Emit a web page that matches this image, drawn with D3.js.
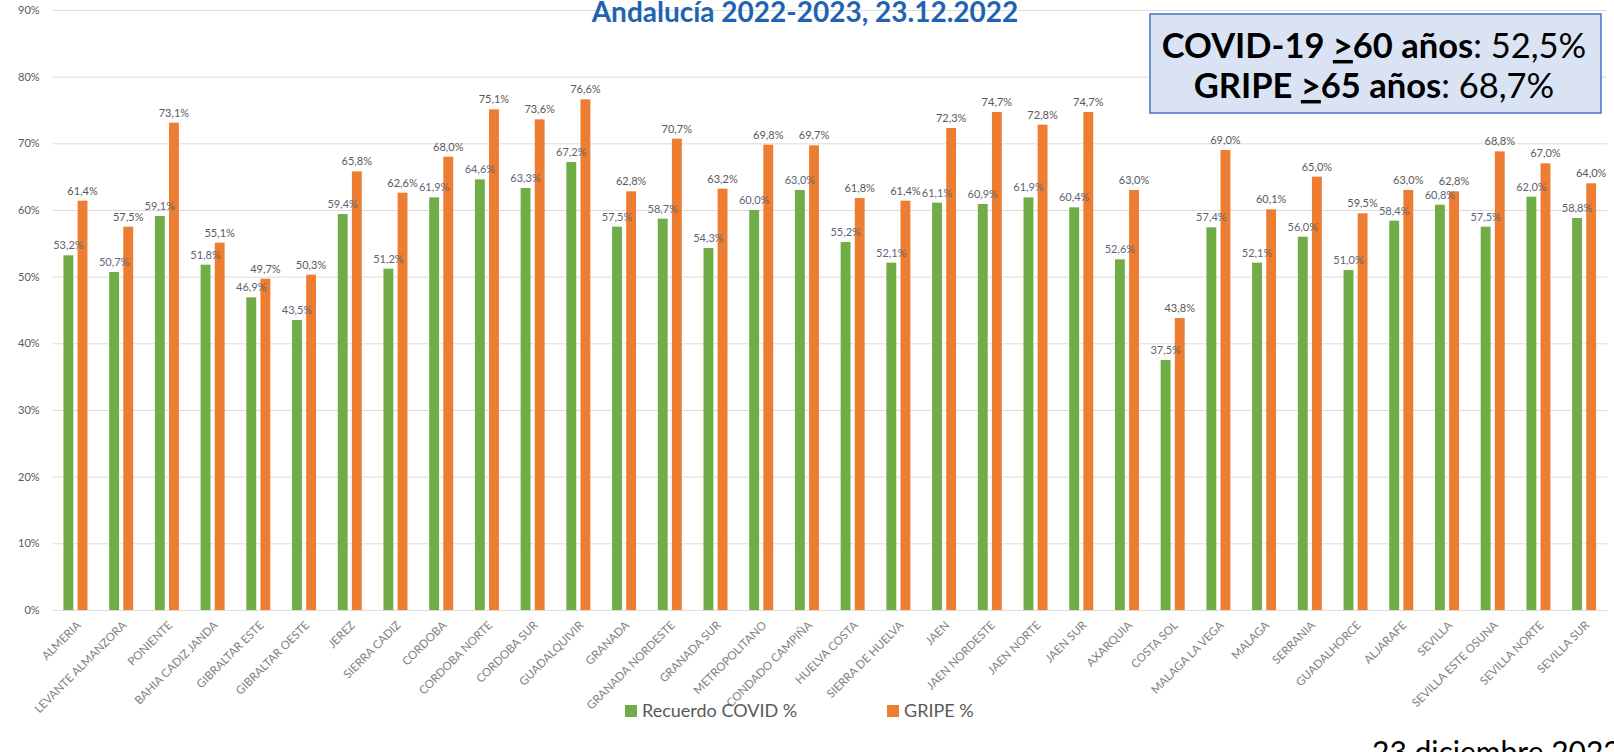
<!DOCTYPE html>
<html>
<head>
<meta charset="utf-8">
<script src="https://cdn.jsdelivr.net/npm/d3@7"></script>
<style>
  html, body { margin: 0; padding: 0; background: #fff; overflow: hidden; }
  svg { display: block; font-family: Lato, "Open Sans", sans-serif; }
</style>
</head>
<body>
<svg id="chart" width="1614" height="752"></svg>
<script>
const categories = [
  "ALMERIA", "LEVANTE ALMANZORA", "PONIENTE", "BAHIA CADIZ JANDA", "GIBRALTAR ESTE",
  "GIBRALTAR OESTE", "JEREZ", "SIERRA CADIZ", "CORDOBA", "CORDOBA NORTE",
  "CORDOBA SUR", "GUADALQUIVIR", "GRANADA", "GRANADA NORDESTE", "GRANADA SUR",
  "METROPOLITANO", "CONDADO CAMPIÑA", "HUELVA COSTA", "SIERRA DE HUELVA", "JAEN",
  "JAEN NORDESTE", "JAEN NORTE", "JAEN SUR", "AXARQUIA", "COSTA SOL",
  "MALAGA LA VEGA", "MALAGA", "SERRANIA", "GUADALHORCE", "ALJARAFE",
  "SEVILLA", "SEVILLA ESTE OSUNA", "SEVILLA NORTE", "SEVILLA SUR"
];
const covidValues = [
  53.2, 50.7, 59.1, 51.8, 46.9, 43.5, 59.4, 51.2, 61.9, 64.6,
  63.3, 67.2, 57.5, 58.7, 54.3, 60.0, 63.0, 55.2, 52.1, 61.1,
  60.9, 61.9, 60.4, 52.6, 37.5, 57.4, 52.1, 56.0, 51.0, 58.4,
  60.8, 57.5, 62.0, 58.8
];
const gripeValues = [
  61.4, 57.5, 73.1, 55.1, 49.7, 50.3, 65.8, 62.6, 68.0, 75.1,
  73.6, 76.6, 62.8, 70.7, 63.2, 69.8, 69.7, 61.8, 61.4, 72.3,
  74.7, 72.8, 74.7, 63.0, 43.8, 69.0, 60.1, 65.0, 59.5, 63.0,
  62.8, 68.8, 67.0, 64.0
];
const seriesKeys = ["covid", "gripe"];
const seriesNames = ["Recuerdo COVID %", "GRIPE %"];
const seriesColors = ["#70AD47", "#ED7D31"];
const yTicks = [0, 10, 20, 30, 40, 50, 60, 70, 80, 90];
const titleText = "Andalucía 2022-2023, 23.12.2022";
const boxLine1 = [["COVID-19 ", "bold", false], [">", "bold", true], ["60 años", "bold", false], [": 52,5%", "normal", false]];
const boxLine2 = [["GRIPE ", "bold", false], [">", "bold", true], ["65 años", "bold", false], [": 68,7%", "normal", false]];
const dateText = "23 diciembre 2022";

const data = categories.map((c, i) => ({ cat: c, covid: covidValues[i], gripe: gripeValues[i] }));
const fmt = v => d3.format(".1f")(v).replace(".", ",") + "%";

const svg = d3.select("#chart");
const plotLeft = 52.6, plotRight = 1607, plotTop = 10, plotBottom = 610;

const x0 = d3.scaleBand().domain(categories).range([plotLeft, plotRight]).paddingInner(0.475).paddingOuter(0.2375);
const x1 = d3.scaleBand().domain(seriesKeys).range([0, x0.bandwidth()]).paddingInner(0.3);
const y = d3.scaleLinear().domain([0, 90]).range([plotBottom, plotTop]);
const color = d3.scaleOrdinal().domain(seriesKeys).range(seriesColors);

// Y axis with gridlines
const yAxis = svg.append("g")
  .attr("transform", `translate(${plotLeft},0)`)
  .call(d3.axisLeft(y).tickValues(yTicks).tickSize(-(plotRight - plotLeft)).tickPadding(13).tickFormat(d => d + "%"));
yAxis.select(".domain").remove();
yAxis.selectAll(".tick line").attr("stroke", "#DCDCDC").attr("stroke-width", 1);
yAxis.selectAll(".tick text").attr("fill", "#595959").style("font-size", "11px").style("font-family", "Lato");

// X axis labels
const xAxis = svg.append("g")
  .attr("transform", `translate(0,${plotBottom})`)
  .call(d3.axisBottom(x0).tickSize(0).tickPadding(0));
xAxis.select(".domain").remove();
xAxis.selectAll(".tick text")
  .attr("fill", "#808080")
  .style("font-size", "11.5px")
  .style("font-family", "Lato")
  .attr("text-anchor", "end")
  .attr("dy", "0")
  .attr("y", 0)
  .attr("transform", "translate(6,16) rotate(-45)");

// Bars
const groups = svg.append("g").selectAll("g")
  .data(data).join("g")
  .attr("transform", d => `translate(${x0(d.cat)},0)`);

groups.selectAll("rect")
  .data(d => seriesKeys.map(k => ({ key: k, value: d[k] })))
  .join("rect")
  .attr("x", d => x1(d.key))
  .attr("width", x1.bandwidth())
  .attr("y", d => y(d.value))
  .attr("height", d => y(0) - y(d.value))
  .attr("fill", d => color(d.key));

groups.selectAll("text.lbl")
  .data(d => seriesKeys.map(k => ({ key: k, value: d[k] })))
  .join("text")
  .attr("class", "lbl")
  .attr("x", d => x1(d.key) + x1.bandwidth() / 2)
  .attr("y", d => y(d.value) - 6)
  .attr("text-anchor", "middle")
  .attr("fill", d => d.key === "covid" ? "#5B6577" : "#595959")
  .style("font-size", "11px")
  .style("font-family", "Lato")
  .text(d => fmt(d.value));

// Title
svg.append("text")
  .attr("x", 805).attr("y", 22)
  .attr("text-anchor", "middle")
  .attr("fill", "#1F63B2")
  .style("font-size", "28px")
  .style("font-weight", "bold")
  .style("font-family", "Lato")
  .text(titleText);

// Info box
svg.append("rect")
  .attr("x", 1150).attr("y", 14).attr("width", 451).attr("height", 99)
  .attr("fill", "#DAE3F3").attr("stroke", "#4472C4").attr("stroke-width", 1.5);

function boxLine(parts, yPos) {
  const t = svg.append("text")
    .attr("x", 1374).attr("y", yPos)
    .attr("text-anchor", "middle")
    .attr("fill", "#000")
    .style("font-size", "34.5px")
    .style("font-family", "Lato");
  parts.forEach(p => {
    t.append("tspan")
      .style("font-weight", p[1])
      .style("text-decoration", p[2] ? "underline" : "none")
      .text(p[0]);
  });
}
boxLine(boxLine1, 58);
boxLine(boxLine2, 98);

// Legend
const legend = svg.append("g").attr("transform", "translate(625,711)");
const legendX = [0, 262];
seriesKeys.forEach((k, i) => {
  const g = legend.append("g").attr("transform", `translate(${legendX[i]},0)`);
  g.append("rect").attr("x", 0).attr("y", -6).attr("width", 12).attr("height", 12).attr("fill", seriesColors[i]);
  g.append("text").attr("x", 17).attr("y", 0).attr("dy", "0.35em")
    .attr("fill", "#595959").style("font-size", "18px").style("font-family", "Lato")
    .text(seriesNames[i]);
});

// Date footer
svg.append("text")
  .attr("x", 1372).attr("y", 763)
  .attr("fill", "#000")
  .style("font-size", "30px")
  .style("font-family", "Lato")
  .text(dateText);
</script>
</body>
</html>
